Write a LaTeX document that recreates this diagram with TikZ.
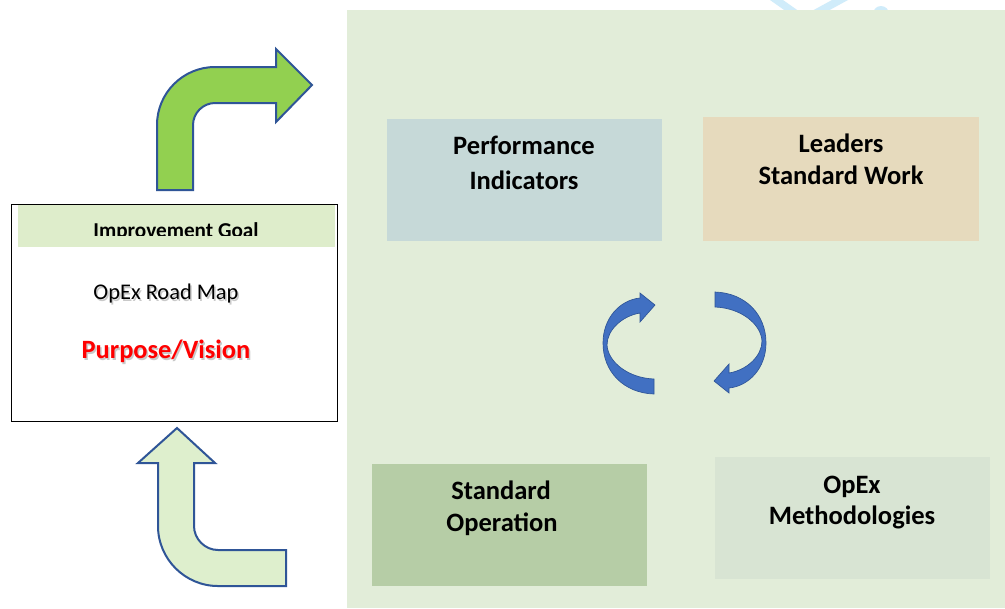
\documentclass[tikz,border=0pt]{standalone}
\usepackage{fontspec}
\setmainfont{Carlito}
\definecolor{panelgreen}{HTML}{E2EDD9}
\definecolor{headgreen}{HTML}{DEEDCB}
\definecolor{kpiblue}{HTML}{C6D9D8}
\definecolor{leadsand}{HTML}{E6DABD}
\definecolor{opgreen}{HTML}{B6CDA6}
\definecolor{methgrey}{HTML}{D8E4D3}
\definecolor{arrowgreen}{HTML}{92D050}
\definecolor{arrowpale}{HTML}{DEEFCD}
\definecolor{edgeblue}{HTML}{2F5597}
\definecolor{cycblue}{HTML}{4170C2}
\definecolor{markblue}{HTML}{D0ECFA}
\definecolor{visionred}{HTML}{FF0000}
\begin{document}
\begin{tikzpicture}[x=0.75pt,y=-0.75pt,
  block/.style={draw=none,inner sep=0pt,outer sep=0pt},
  lbl/.style={inner sep=0pt,anchor=base,font=\fontsize{19.9}{24}\selectfont\bfseries},
  turnarrow/.style={draw=edgeblue,line width=1.5pt,line join=miter},
  cyc/.pic={
    \fill[cycblue,draw=edgeblue,line width=0.5pt]
      (-30.5,51) .. controls (-60.5,50) and (-81.5,29) .. (-81.5,0)
      .. controls (-81.5,-25) and (-64.5,-43) .. (-44.5,-45)
      -- (-44.5,-50) -- (-29.5,-38) -- (-44.5,-21) -- (-44.5,-30)
      .. controls (-62.5,-27) and (-77.5,-13) .. (-77.5,2)
      .. controls (-76.5,19) and (-56.5,35) .. (-30.5,36) -- cycle;
  }]
\useasboundingbox (0,0) rectangle (1005,608);
\fill[white] (0,0) rectangle (1005,608);

% faint logo strokes peeking above the panel
\fill[markblue] (770,0) -- (783,0) -- (800,12) -- (787,12) -- cycle;
\fill[markblue] (832,0) -- (848,0) -- (826,12) -- (810,12) -- cycle;
\fill[markblue] (881,14) circle[radius=8];

% main panel
\node[block,fill=panelgreen,minimum width=658*0.75pt,minimum height=598*0.75pt,anchor=north west] (panel) at (347,10) {};

% four practice blocks
\node[block,fill=kpiblue,minimum width=275*0.75pt,minimum height=122*0.75pt,anchor=north west] (kpi) at (387,119) {};
\node[block,fill=leadsand,minimum width=276*0.75pt,minimum height=124*0.75pt,anchor=north west] (lsw) at (703,117) {};
\node[block,fill=opgreen,minimum width=275*0.75pt,minimum height=122*0.75pt,anchor=north west] (sop) at (372,464) {};
\node[block,fill=methgrey,minimum width=275*0.75pt,minimum height=122*0.75pt,anchor=north west] (meth) at (715,457) {};

\node[lbl] (kpiA) at (524,154) {Performance};
\node[lbl] (kpiB) at (524,189) {Indicators};
\node[lbl] (lswA) at (841,152) {Leaders};
\node[lbl] (lswB) at (841,184) {Standard Work};
\node[lbl] (sopA) at (501,499) {Standard};
\node[lbl] (sopB) at (502,531) {Operation};
\node[lbl] (methA) at (852,493) {OpEx};
\node[lbl] (methB) at (852,524) {Methodologies};

% continuous-improvement cycle
\pic at (684.5,343) {cyc};
\pic[rotate=180] at (684.5,343) {cyc};

% road map box
\node[draw=black,line width=0.9pt,fill=white,inner sep=0pt,minimum width=326*0.75pt,minimum height=217*0.75pt,anchor=north west] (map) at (11,204) {};
\fill[headgreen] (18,205) rectangle (335,247);
\begin{scope}
  \clip (18,205) rectangle (335,235.7);
  \node[inner sep=0pt,anchor=base,font=\fontsize{15.9}{18}\selectfont\bfseries] (goal) at (176,237) {Improvement Goal};
\end{scope}
\node[inner sep=0pt,anchor=base,text=black!35,opacity=0.6,font=\fontsize{16.8}{20}\selectfont] at (167.5,301) {OpEx Road Map};
\node[inner sep=0pt,anchor=base,font=\fontsize{16.8}{20}\selectfont] (road) at (166,299) {OpEx Road Map};
\node[inner sep=0pt,anchor=base,text=black!35,opacity=0.6,font=\fontsize{19.8}{24}\selectfont\bfseries] at (167.5,360) {Purpose/Vision};
\node[inner sep=0pt,anchor=base,text=visionred,font=\fontsize{19.8}{24}\selectfont\bfseries] (vision) at (166,358) {Purpose/Vision};

% turning arrows in and out of the road map
\filldraw[turnarrow,fill=arrowgreen]
  (157,190) -- (157,125) .. controls (157,93) and (183,67) .. (215,67)
  -- (276,67) -- (276,49) -- (312,85) -- (276,122) -- (276,103) -- (215,103)
  .. controls (203,103) and (193,113) .. (193,125) -- (193,190) -- cycle;
\filldraw[turnarrow,fill=arrowpale]
  (177,428) -- (215,463) -- (194,463) -- (194,526)
  .. controls (194,539) and (205,550) .. (218,550) -- (286,550) -- (286,586)
  -- (218,586) .. controls (185,586) and (158,559) .. (158,526)
  -- (158,463) -- (138,463) -- cycle;
\end{tikzpicture}
\end{document}
